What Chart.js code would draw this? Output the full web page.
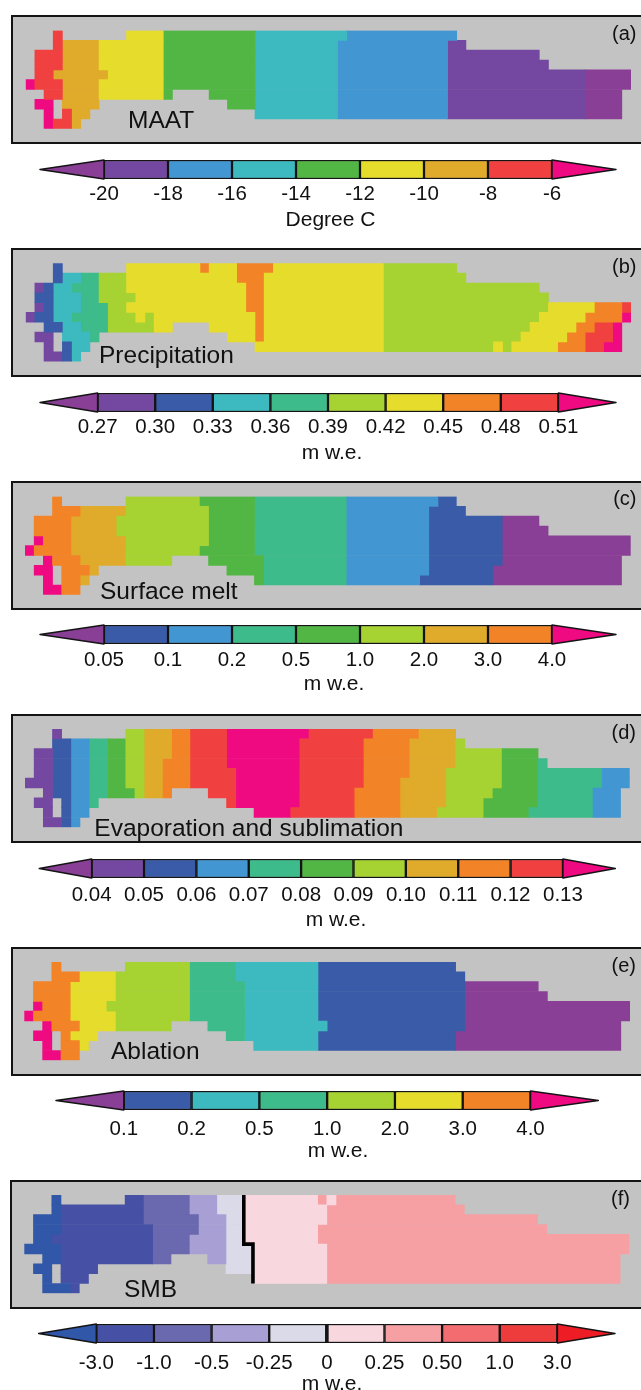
<!DOCTYPE html>
<html>
<head>
<meta charset="utf-8">
<style>
    html, body { margin: 0; padding: 0; background: #fff; width: 641px; height: 1390px; overflow: hidden; }
    canvas { position: absolute; left: 0; }
    .frame { position: absolute; width: 700px; box-sizing: border-box; background: #C3C3C3; border: 2px solid #141414; }
    .txt { position: absolute; font-family: "Liberation Sans", Arial, sans-serif; color: #111; white-space: nowrap; }
</style>
</head>
<body>
<script src="https://cdn.jsdelivr.net/npm/chart.js@4"></script>
<script>
// colour classes used by the maps and the colour bars
const classColors = {
    P: '#8A3F96', V: '#7448A0', D: '#3A5BA8', B: '#4296D2', C: '#3CBAC0', T: '#3EBB8A', G: '#52B644',
    L: '#A6D232', Y: '#E6DC2B', A: '#E0AA2A', O: '#F28326', R: '#F04040', K: '#F00A82',
    a: '#3057A8', b: '#4650A4', c: '#6A68AE', d: '#A8A0D4', e: '#DADAE8',
    f: '#F8D8DE', g: '#F6A0A4', h: '#F26C70', i: '#EE3C3C', j: '#EE1C24'
};

// one string per grid row, tokens are class + first column - end column
const maatRuns = [
    'R3-4 Y11-15 G15-25 C25-35 B35-47',
    'R3-4 A4-8 Y8-15 G15-25 C25-34 B34-46 V46-48',
    'R1-4 A4-8 Y8-15 G15-25 C25-34 B34-46 V46-56',
    'R1-4 A4-8 Y8-15 G15-25 C25-34 B34-46 V46-57',
    'R1-3 A3-9 Y9-15 G15-25 C25-34 B34-46 V46-61 P61-66',
    'K0-1 R1-4 A4-8 Y8-15 G15-25 C25-34 B34-46 V46-61 P61-66',
    'R2-4 A4-8 Y8-15 G15-16 G20-25 C25-34 B34-46 V46-61 P61-65',
    'K1-3 A4-8 G22-25 C25-34 B34-46 V46-61 P61-65',
    'K2-3 R4-5 A5-7 C25-34 B34-46 V46-61 P61-65',
    'K2-3 R3-5 A5-6'
];
const precipRuns = [
    'D3-4 Y11-19 O19-20 Y20-23 O23-27 Y27-39 L39-47',
    'D3-4 C4-6 T6-8 L8-11 Y11-23 O23-26 Y26-39 L39-48',
    'V1-2 D2-3 C3-5 T5-8 L8-11 Y11-24 O24-26 Y26-39 L39-56',
    'D1-3 C3-6 T6-8 L8-12 Y12-24 O24-26 Y26-39 L39-57',
    'V1-2 D2-3 C3-6 T6-9 L9-11 Y11-24 O24-26 Y26-39 L39-57 Y57-62 O62-65 R65-66',
    'V0-1 D1-3 C3-5 T5-9 L9-12 Y12-13 L13-14 Y14-25 O25-26 Y26-39 L39-56 Y56-61 O61-65 K65-66',
    'D2-4 C4-6 T6-9 L9-14 Y14-16 Y20-25 O25-26 Y26-39 L39-55 Y55-60 O60-62 R62-64 K64-65',
    'V1-3 C4-7 T7-8 Y22-25 O25-26 Y26-39 L39-54 Y54-59 O59-61 R61-64 K64-65',
    'V2-3 D4-5 C5-7 Y25-39 L39-51 Y51-52 L52-53 Y53-58 O58-61 R61-63 K63-65',
    'V2-4 D4-5 C5-6'
];
const meltRuns = [
    'O3-4 L11-19 G19-25 T25-35 B35-45 D45-47',
    'O3-6 A6-11 L11-20 G20-25 T25-35 B35-44 D44-48',
    'O1-5 A5-10 L10-20 G20-25 T25-35 B35-44 D44-52 P52-56',
    'O1-5 A5-10 L10-20 G20-25 T25-35 B35-44 D44-52 P52-57',
    'K1-2 O2-5 A5-11 L11-20 G20-25 T25-35 B35-44 D44-52 P52-66',
    'K0-1 O1-5 A5-11 L11-19 G19-25 T25-35 B35-44 D44-52 P52-66',
    'K2-3 O3-6 A6-11 L11-16 G20-26 T26-35 B35-44 D44-52 P52-65',
    'K1-3 O4-7 A7-8 G22-26 T26-35 B35-44 D44-51 P51-65',
    'K2-3 O4-6 A6-7 G25-26 T26-35 B35-43 D43-51 P51-65',
    'K2-4 O4-6'
];
const evapRuns = [
    'V3-4 L11-13 A13-16 O16-18 R18-22 K22-31 R31-38 O38-43 A43-47',
    'D3-5 B5-7 T7-9 G9-11 L11-13 A13-16 O16-18 R18-22 K22-30 R30-37 O37-42 A42-47 L47-48',
    'V1-3 D3-5 B5-7 T7-9 G9-11 L11-13 A13-16 O16-18 R18-22 K22-30 R30-37 O37-42 A42-47 L47-52 G52-56',
    'V1-3 D3-5 B5-7 T7-9 G9-11 L11-13 A13-15 O15-18 R18-22 K22-30 R30-37 O37-42 A42-47 L47-52 G52-56 T56-57',
    'V1-3 D3-5 B5-7 T7-9 G9-11 L11-13 A13-15 O15-18 R18-23 K23-30 R30-37 O37-42 A42-46 L46-52 G52-56 T56-63 B63-66',
    'V0-3 D3-5 B5-7 T7-9 G9-11 L11-13 A13-15 O15-18 R18-23 K23-30 R30-37 O37-41 A41-46 L46-52 G52-56 T56-63 B63-66',
    'V2-3 D3-5 B5-7 T7-9 G9-12 L12-13 A13-15 O15-16 R20-23 K23-30 R30-36 O36-41 A41-46 L46-51 G51-56 T56-62 B62-65',
    'V1-3 D4-5 B5-7 T7-8 R22-23 K23-30 R30-36 O36-41 A41-46 L46-50 G50-56 T56-62 B62-65',
    'V2-3 D4-5 B5-7 K25-29 R29-36 O36-41 A41-45 L45-50 G50-55 T55-62 B62-65',
    'V2-4 D4-5 B5-6'
];
const ablationRuns = [
    'O3-4 L11-18 T18-23 C23-32 D32-47',
    'O3-6 Y6-10 L10-18 T18-23 C23-32 D32-48',
    'O1-5 Y5-10 L10-18 T18-24 C24-32 D32-48 P48-56',
    'O1-5 Y5-10 L10-18 T18-24 C24-32 D32-48 P48-57',
    'K1-2 O2-5 Y5-9 L9-18 T18-24 C24-32 D32-48 P48-66',
    'K0-1 O1-5 Y5-10 L10-18 T18-24 C24-32 D32-48 P48-66',
    'K2-3 O3-6 Y6-10 L10-16 T20-24 C24-33 D33-48 P48-65',
    'K1-3 O4-5 Y5-8 T22-24 C24-32 D32-47 P47-65',
    'K2-3 O4-6 Y6-7 C25-32 D32-47 P47-65',
    'K2-4 O4-6'
];
const smbRuns = [
    'a3-4 b11-13 c13-18 d18-21 e21-24 f24-32 g32-33 f33-34 g34-47',
    'a3-4 b4-13 c13-18 d18-21 e21-24 f24-33 g33-48',
    'a1-4 b4-13 c13-19 d19-22 e22-24 f24-33 g33-56',
    'a1-4 b4-14 c14-19 d19-22 e22-24 f24-32 g32-57',
    'a1-3 b3-14 c14-18 d18-22 e22-24 f24-32 g32-66',
    'a0-4 b4-14 c14-18 d18-22 e22-25 f25-33 g33-66',
    'a2-4 b4-14 c14-16 d20-22 e22-25 f25-33 g33-65',
    'a1-3 b4-8 e22-25 f25-33 g33-65',
    'a2-3 b4-7 f25-33 g33-65',
    'a2-5 b5-6'
];
// column of the zero line in each row of the SMB map
const smbZeroLine = [24, 24, 24, 24, 24, 25, 25, 25, 25];

const rowLabels = ['0', '1', '2', '3', '4', '5', '6', '7', '8', '9'];

// colour bars: first and last class are the two arrow heads
const maatBarClasses = ['P', 'V', 'B', 'C', 'G', 'Y', 'A', 'R', 'K'];
const maatTicks = ['-20', '-18', '-16', '-14', '-12', '-10', '-8', '-6'];
const precipBarClasses = ['P', 'V', 'D', 'C', 'T', 'L', 'Y', 'O', 'R', 'K'];
const precipTicks = ['0.27', '0.30', '0.33', '0.36', '0.39', '0.42', '0.45', '0.48', '0.51'];
const meltBarClasses = ['P', 'D', 'B', 'T', 'G', 'L', 'A', 'O', 'K'];
const meltTicks = ['0.05', '0.1', '0.2', '0.5', '1.0', '2.0', '3.0', '4.0'];
const evapBarClasses = ['P', 'V', 'D', 'B', 'T', 'G', 'L', 'A', 'O', 'R', 'K'];
const evapTicks = ['0.04', '0.05', '0.06', '0.07', '0.08', '0.09', '0.10', '0.11', '0.12', '0.13'];
const ablationBarClasses = ['P', 'D', 'C', 'T', 'L', 'Y', 'O', 'K'];
const ablationTicks = ['0.1', '0.2', '0.5', '1.0', '2.0', '3.0', '4.0'];
const smbBarClasses = ['a', 'b', 'c', 'd', 'e', 'f', 'g', 'h', 'i', 'j'];
const smbTicks = ['-3.0', '-1.0', '-0.5', '-0.25', '0', '0.25', '0.50', '1.0', '3.0'];

const panelNames = ['MAAT', 'Precipitation', 'Surface melt', 'Evaporation and sublimation', 'Ablation', 'SMB'];
const panelTags = ['(a)', '(b)', '(c)', '(d)', '(e)', '(f)'];
const unitNames = ['Degree C', 'm w.e.', 'm w.e.', 'm w.e.', 'm w.e.', 'm w.e.'];

const allRuns = [maatRuns, precipRuns, meltRuns, evapRuns, ablationRuns, smbRuns];
const allBarClasses = [maatBarClasses, precipBarClasses, meltBarClasses, evapBarClasses, ablationBarClasses, smbBarClasses];
const allTicks = [maatTicks, precipTicks, meltTicks, evapTicks, ablationTicks, smbTicks];

// page layout, in pixels
const layouts = [
    { frameL: 11, frameT: 14.5, frameB: 144, gridL: 25.7, gridR: 631, gridT: 30, name: [128, 119.5, 'l'], tag: [636.5, 32.5], barT: 159.5, barL: 40, barR: 616, tickPad: 3, unit: [330.5, 218.7] },
    { frameL: 11, frameT: 248, frameB: 376.5, gridL: 25.7, gridR: 631, gridT: 263.3, name: [99, 355, 'l'], tag: [636.5, 265.7], barT: 392.5, barL: 40, barR: 616, tickPad: 3, unit: [332, 452] },
    { frameL: 11, frameT: 480.5, frameB: 609.5, gridL: 25, gridR: 630.7, gridT: 496, name: [100, 591, 'l'], tag: [636.5, 498.3], barT: 625, barL: 40, barR: 616, tickPad: 4.5, unit: [334, 683] },
    { frameL: 10.5, frameT: 714, frameB: 843, gridL: 25, gridR: 629.7, gridT: 729, name: [94.3, 828.3, 'l'], tag: [636, 732.3], barT: 858.5, barL: 39.3, barR: 615.3, tickPad: 5.5, unit: [336, 919.3] },
    { frameL: 10.5, frameT: 947, frameB: 1076, gridL: 24.3, gridR: 630, gridT: 962, name: [111, 1051.3, 'l'], tag: [636, 965], barT: 1091, barL: 56, barR: 598.3, tickPad: 7, unit: [338, 1150] },
    { frameL: 10, frameT: 1180, frameB: 1309, gridL: 24.3, gridR: 629.3, gridT: 1195, name: [124, 1289, 'l'], tag: [630, 1198.3], barT: 1324, barL: 38.7, barR: 615, tickPad: 8, unit: [332, 1383.3] }
];
const gridColumns = 66;
const rowHeight = 9.83;
const barHeight = 18.4;
const inkColor = '#141414';
const fontFamily = '"Liberation Sans", Arial, sans-serif';

function addText(text, x, y, size, anchor) {
    const el = document.createElement('div');
    el.className = 'txt';
    el.textContent = text;
    el.style.fontSize = size + 'px';
    el.style.lineHeight = '30px';
    el.style.top = (y - 15) + 'px';
    if (anchor === 'r') {
        el.style.right = (641 - x) + 'px';
    } else {
        el.style.left = x + 'px';
        if (anchor === 'c') el.style.transform = 'translateX(-50%)';
    }
    document.body.appendChild(el);
}

function addCanvas(top, height) {
    const canvas = document.createElement('canvas');
    canvas.width = 641;
    canvas.height = height;
    canvas.style.top = top + 'px';
    document.body.appendChild(canvas);
    return canvas;
}

function runsToDatasets(rows) {
    const byClass = {};
    rows.forEach((row, r) => {
        row.split(' ').forEach(token => {
            const m = token.match(/([A-Za-z])(\d+)-(\d+)/);
            if (!byClass[m[1]]) byClass[m[1]] = [];
            byClass[m[1]].push({ x: [+m[2], +m[3]], y: rowLabels[r] });
        });
    });
    return Object.keys(byClass).map(key => ({
        label: key,
        data: byClass[key],
        backgroundColor: classColors[key],
        borderWidth: 0,
        grouped: false,
        barPercentage: 1,
        categoryPercentage: 1
    }));
}

const zeroLinePlugin = {
    id: 'zeroLine',
    afterDatasetsDraw(chart) {
        const ctx = chart.ctx;
        const band = chart.chartArea.height / rowLabels.length;
        ctx.save();
        ctx.strokeStyle = '#000';
        ctx.lineWidth = 3.6;
        ctx.beginPath();
        smbZeroLine.forEach((col, r) => {
            const x = chart.scales.x.getPixelForValue(col) - 0.5;
            const y0 = chart.chartArea.top + r * band;
            if (r === 0) ctx.moveTo(x, y0); else ctx.lineTo(x, y0);
            ctx.lineTo(x, y0 + band);
        });
        ctx.stroke();
        ctx.restore();
    }
};

function drawMap(i) {
    const l = layouts[i];
    const frame = document.createElement('div');
    frame.className = 'frame';
    frame.style.left = l.frameL + 'px';
    frame.style.top = l.frameT + 'px';
    frame.style.height = (l.frameB - l.frameT) + 'px';
    document.body.appendChild(frame);

    const canvas = addCanvas(l.frameT, Math.ceil(l.frameB - l.frameT));
    const gridB = l.gridT + rowHeight * rowLabels.length;
    new Chart(canvas, {
        type: 'bar',
        data: { labels: rowLabels, datasets: runsToDatasets(allRuns[i]) },
        options: {
            indexAxis: 'y',
            responsive: false,
            animation: false,
            layout: {
                padding: { left: l.gridL, right: 641 - l.gridR, top: l.gridT - l.frameT, bottom: canvas.height - (gridB - l.frameT) }
            },
            plugins: { legend: { display: false }, tooltip: { enabled: false } },
            scales: {
                x: { type: 'linear', min: 0, max: gridColumns, display: false },
                y: { type: 'category', display: false }
            }
        },
        plugins: i === 5 ? [zeroLinePlugin] : []
    });
}

const arrowPlugin = {
    id: 'barArrows',
    afterDatasetsDraw(chart, args, opts) {
        const ctx = chart.ctx;
        const xs = chart.scales.x;
        const { top, bottom } = chart.chartArea;
        const mid = (top + bottom) / 2;
        ctx.save();
        ctx.strokeStyle = inkColor;
        ctx.lineWidth = 1.5;
        ctx.lineJoin = 'round';
        [[0, -1, opts.left], [opts.count, opts.count + 1, opts.right]].forEach(arrow => {
            ctx.beginPath();
            ctx.moveTo(xs.getPixelForValue(arrow[0]), top);
            ctx.lineTo(xs.getPixelForValue(arrow[1]), mid);
            ctx.lineTo(xs.getPixelForValue(arrow[0]), bottom);
            ctx.closePath();
            ctx.fillStyle = arrow[2];
            ctx.fill();
            ctx.stroke();
        });
        if (opts.zero !== null) {
            ctx.lineWidth = 3.6;
            ctx.beginPath();
            ctx.moveTo(xs.getPixelForValue(opts.zero), top);
            ctx.lineTo(xs.getPixelForValue(opts.zero), bottom);
            ctx.stroke();
        }
        ctx.restore();
    }
};

function drawColourBar(i) {
    const l = layouts[i];
    const classes = allBarClasses[i];
    const ticks = allTicks[i];
    const inner = classes.slice(1, -1);
    const pad = 3;
    const axisHeight = 36;
    const canvas = addCanvas(l.barT - pad, Math.ceil(pad + barHeight + axisHeight));
    new Chart(canvas, {
        type: 'bar',
        data: {
            labels: ['bar'],
            datasets: [{
                data: inner.map((c, n) => ({ x: [n, n + 1], y: 'bar' })),
                backgroundColor: inner.map(c => classColors[c]),
                borderColor: inkColor,
                borderWidth: 1.5,
                borderSkipped: false,
                grouped: false,
                barPercentage: 1,
                categoryPercentage: 1
            }]
        },
        options: {
            indexAxis: 'y',
            responsive: false,
            animation: false,
            layout: {
                padding: { left: l.barL, right: 641 - l.barR, top: pad, bottom: 0 }
            },
            plugins: {
                legend: { display: false },
                tooltip: { enabled: false },
                barArrows: {
                    left: classColors[classes[0]],
                    right: classColors[classes[classes.length - 1]],
                    count: inner.length,
                    zero: ticks.indexOf('0') >= 0 ? ticks.indexOf('0') : null
                }
            },
            scales: {
                x: {
                    type: 'linear',
                    min: -1,
                    max: inner.length + 1,
                    afterFit(scale) { scale.height = axisHeight; },
                    grid: { display: false, drawTicks: false },
                    border: { display: false },
                    ticks: {
                        stepSize: 1,
                        autoSkip: false,
                        maxRotation: 0,
                        padding: l.tickPad,
                        color: '#111',
                        font: { family: fontFamily, size: 20.5 },
                        callback: value => (ticks[value] !== undefined ? ticks[value] : '')
                    }
                },
                y: { type: 'category', display: false }
            }
        },
        plugins: [arrowPlugin]
    });
}

document.addEventListener('DOMContentLoaded', function () {
    layouts.forEach((l, i) => {
        drawMap(i);
        drawColourBar(i);
        addText(panelNames[i], l.name[0], l.name[1], 24.5, l.name[2]);
        addText(panelTags[i], l.tag[0], l.tag[1], 20, 'r');
        addText(unitNames[i], l.unit[0], l.unit[1], 21, 'c');
    });
});
</script>
</body>
</html>
